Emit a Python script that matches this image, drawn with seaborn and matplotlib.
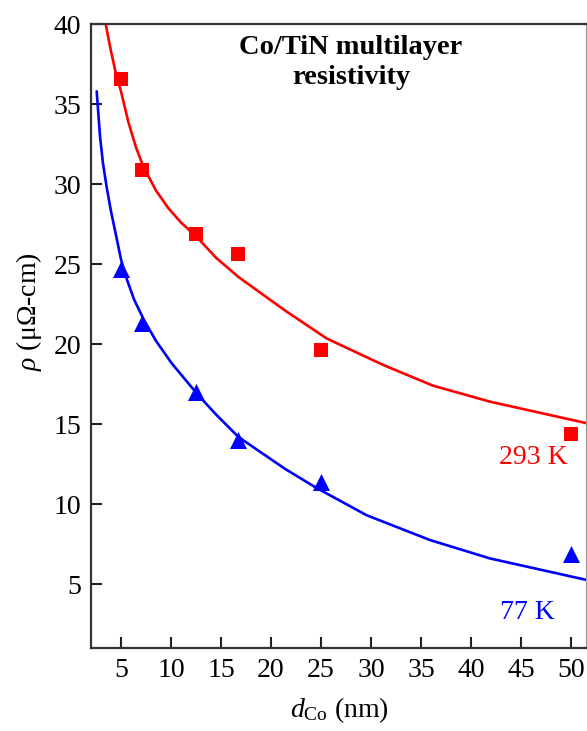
import matplotlib
matplotlib.use("Agg")
import matplotlib.pyplot as plt
import pandas as pd
import seaborn as sns

# measured points (d_Co in nm, rho in uOhm-cm)
d_meas = [5, 7.1, 12.5, 16.7, 25, 50]
rho_293 = [36.6, 30.9, 26.9, 25.6, 19.6, 14.4]
rho_77 = [24.7, 21.3, 17.0, 14.0, 11.4, 6.9]

# model curves
d_fit_293 = [3.47, 4.0, 4.5, 5.0, 5.73, 6.5, 7.23, 8.5, 9.73, 11.0, 12.57, 14.5, 16.73,
             21.4, 25.57, 31.2, 36.2, 41.9, 51.6]
rho_fit_293 = [40.0, 38.3, 36.9, 35.8, 33.9, 32.3, 31.1, 29.6, 28.5, 27.6, 26.7, 25.4, 24.2,
               22.1, 20.35, 18.7, 17.4, 16.4, 15.05]
d_fit_77 = [2.57, 2.9, 3.2, 3.57, 4.0, 4.57, 5.0, 5.5, 6.3, 7.3, 8.5, 10.07, 12.73, 14.5, 16.73,
            21.4, 24.57, 29.57, 35.9, 41.9, 51.6]
rho_fit_77 = [35.8, 33.0, 31.3, 29.8, 28.3, 26.6, 25.3, 24.2, 22.8, 21.5, 20.2, 18.8, 16.8, 15.6, 14.2,
              12.2, 11.0, 9.3, 7.75, 6.6, 5.25]

sns.set_style("ticks")
plt.rcParams["font.family"] = ["Liberation Serif", "DejaVu Serif"]
plt.rcParams["mathtext.fontset"] = "custom"
plt.rcParams["mathtext.rm"] = "Liberation Serif"
plt.rcParams["mathtext.it"] = "Liberation Serif:italic"

fig = plt.figure(figsize=(5.87, 7.31), dpi=100)
ax = fig.add_axes([0.155, 0.1135, 0.845, 0.8535])

red = "#ff0000"
blue = "#0000ff"

sns.lineplot(x=d_fit_293, y=rho_fit_293, sort=False, color=red, linewidth=1.9, ax=ax)
sns.lineplot(x=d_fit_77, y=rho_fit_77, sort=False, color=blue, linewidth=1.9, ax=ax)
sns.scatterplot(x=d_meas, y=rho_293, marker="s", s=95, color=red, edgecolor=red, linewidth=0, ax=ax, zorder=3)
sns.scatterplot(x=d_meas, y=rho_77, marker="^", s=150, color=blue, edgecolor=blue, linewidth=0, ax=ax, zorder=3)

ax.set_xlim(2, 51.6)
ax.set_ylim(1, 40)
ax.set_xticks([5, 10, 15, 20, 25, 30, 35, 40, 45, 50])
ax.set_yticks([5, 10, 15, 20, 25, 30, 35, 40])
ax.tick_params(direction="in", length=8, width=1.5, labelsize=20, color="#222222",
               labelcolor="black", top=False, right=False, pad=7)
for s in ax.spines.values():
    s.set_linewidth(1.6)
    s.set_color("#333333")
ax.spines["right"].set_color("#999999")

ax.set_xlabel(r"$d_{\mathrm{Co}}$ (nm)", fontsize=20, color="black")
ax.set_ylabel(r"$\rho$ ($\mathrm{\mu\Omega}$-cm)", fontsize=20, color="black")
ax.yaxis.set_label_coords(-0.095, 0.54)
ax.xaxis.set_label_coords(0.5, -0.075)

ax.text(28.0, 37.6, "Co/TiN multilayer\nresistivity", fontsize=20.5, fontweight="bold",
        ha="center", va="center", linespacing=1.3, color="black")
ax.text(49.7, 12.9, "293 K", color=red, fontsize=20, ha="right", va="center")
ax.text(48.4, 3.2, "77 K", color=blue, fontsize=20, ha="right", va="center")

fig.savefig("out.png", dpi=100)
